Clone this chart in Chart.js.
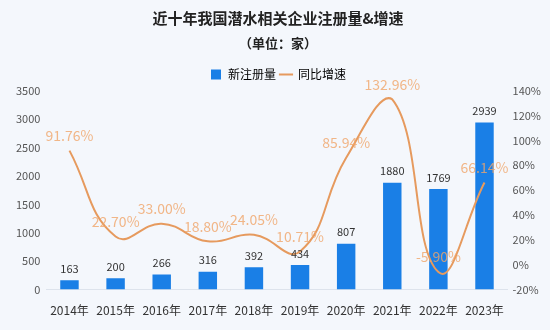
<!DOCTYPE html>
<html>
<head>
<meta charset="utf-8">
<script src="https://cdn.jsdelivr.net/npm/chart.js@4"></script>
<style>
  html, body { margin: 0; padding: 0; background: #f4f7fc; }
  #wrap { width: 550px; height: 330px; }
</style>
</head>
<body>
<div id="wrap"><canvas id="grafico"></canvas></div>
<script>
// Datos del gráfico
const years = ['2014年', '2015年', '2016年', '2017年', '2018年', '2019年', '2020年', '2021年', '2022年', '2023年'];
const registros = [163, 200, 266, 316, 392, 434, 807, 1880, 1769, 2939];
const crecimiento = [91.76, 22.70, 33.00, 18.80, 24.05, 10.71, 85.94, 132.96, -5.90, 66.14];

const FONT = '"Noto Sans CJK SC", "Noto Sans", sans-serif';

// Etiquetas encima de barras y puntos
const etiquetas = {
  id: 'etiquetas',
  afterDatasetsDraw(chart) {
    const ctx = chart.ctx;
    ctx.save();
    ctx.textAlign = 'center';
    ctx.textBaseline = 'bottom';
    chart.getDatasetMeta(0).data.forEach((bar, i) => {
      ctx.font = '11px ' + FONT;
      ctx.fillStyle = '#333';
      ctx.fillText(registros[i], bar.x, bar.y - 6);
    });
    chart.getDatasetMeta(1).data.forEach((pt, i) => {
      ctx.font = '14px ' + FONT;
      ctx.fillStyle = 'rgba(240,165,105,0.8)';
      ctx.fillText(crecimiento[i].toFixed(2) + '%', pt.x, pt.y - 8);
    });
    ctx.restore();
  }
};

new Chart(document.getElementById('grafico'), {
  data: {
    labels: years,
    datasets: [
      {
        type: 'bar',
        label: '新注册量',
        data: registros,
        backgroundColor: '#1a7fe6',
        yAxisID: 'y',
        barPercentage: 0.4,
        categoryPercentage: 1,
        order: 2
      },
      {
        type: 'line',
        label: '同比增速',
        data: crecimiento,
        borderColor: '#e69a5e',
        backgroundColor: '#e69a5e',
        borderWidth: 2,
        pointRadius: 0,
        tension: 0.45,
        yAxisID: 'y1',
        order: 1
      }
    ]
  },
  options: {
    responsive: true,
    maintainAspectRatio: false,
    animation: false,
    layout: { padding: { left: 10, right: 4, top: 7, bottom: 6 } },
    plugins: {
      title: {
        display: true,
        text: '近十年我国潜水相关企业注册量&增速',
        color: '#222',
        font: { family: FONT, size: 15, weight: 'bold' },
        padding: { top: 2, bottom: 8 }
      },
      subtitle: {
        display: true,
        text: '（单位：家）',
        color: '#222',
        font: { family: FONT, size: 13, weight: 'bold' },
        padding: { bottom: 14 }
      },
      legend: {
        display: true,
        labels: {
          usePointStyle: true,
          color: '#333',
          font: { family: FONT, size: 12 },
          boxWidth: 12,
          boxHeight: 10,
          padding: 4,
          generateLabels(chart) {
            return [
              { text: '新注册量', fillStyle: '#1a7fe6', strokeStyle: '#1a7fe6', lineWidth: 0, pointStyle: 'rect', datasetIndex: 0 },
              { text: '同比增速', fillStyle: '#e69a5e', strokeStyle: '#e69a5e', lineWidth: 2, pointStyle: 'line', datasetIndex: 1 }
            ];
          }
        }
      },
      tooltip: { enabled: false }
    },
    scales: {
      x: {
        grid: { display: false },
        border: { color: '#dde3ec' },
        ticks: { color: '#333', maxRotation: 0, autoSkip: false, padding: 6, font: { family: FONT, size: 12 } }
      },
      y: {
        position: 'left',
        min: 0,
        max: 3500,
        grid: { display: false, drawTicks: false },
        border: { display: false },
        ticks: { stepSize: 500, color: '#555', padding: 6, font: { family: FONT, size: 11 }, callback: v => String(v) }
      },
      y1: {
        position: 'right',
        min: -20,
        max: 140,
        grid: { display: false, drawTicks: false },
        border: { display: false },
        ticks: { stepSize: 20, color: '#555', padding: 5, font: { family: FONT, size: 11 }, callback: v => v + '%' }
      }
    }
  },
  plugins: [etiquetas]
});
</script>
</body>
</html>
